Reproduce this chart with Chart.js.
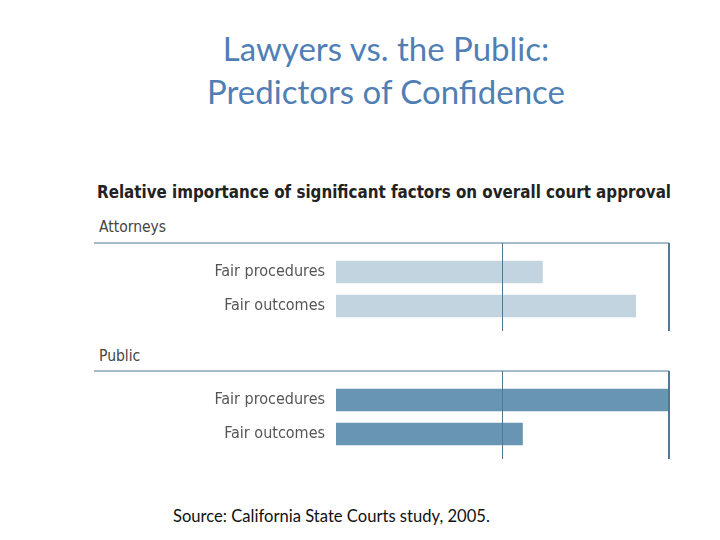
<!DOCTYPE html>
<html>
<head>
<meta charset="utf-8">
<script src="https://cdn.jsdelivr.net/npm/chart.js@4"></script>
<style>
    body { margin: 0; width: 720px; height: 540px; background: #fff; position: relative; overflow: hidden; }
    .title { position: absolute; left: 0; width: 772px; text-align: center; font-family: Lato, 'Open Sans', sans-serif; font-size: 33px; color: #4f7fb5; }
    .heading { position: absolute; left: 97px; top: 182px; font-family: 'DejaVu Sans Condensed', 'DejaVu Sans', sans-serif; font-weight: bold; font-size: 17px; color: #222; white-space: nowrap; }
    .group { position: absolute; left: 99px; font-family: 'DejaVu Sans Condensed', 'DejaVu Sans', sans-serif; font-size: 15.5px; color: #444; }
    .source { position: absolute; left: 173px; top: 506px; font-family: Lato, 'Open Sans', sans-serif; font-size: 16.6px; color: #111; }
    canvas { position: absolute; left: 94px; }
</style>
</head>
<body>
<div class="title" style="top: 28px;">Lawyers vs. the Public:</div>
<div class="title" style="top: 71px;">Predictors of Confidence</div>
<div class="heading" id="heading">Relative importance of significant factors on overall court approval</div>
<div class="group" style="top: 218px;">Attorneys</div>
<div class="group" style="top: 347px;">Public</div>
<canvas id="attorneysChart" width="590" height="110" style="top: 231px;"></canvas>
<canvas id="publicChart" width="590" height="110" style="top: 359px;"></canvas>
<div class="source">Source: California State Courts study, 2005.</div>

<script>
// Chart data
const factors = ['Fair procedures', 'Fair outcomes'];
const attorneyValues = [0.62, 0.90];
const publicValues = [1.0, 0.56];
const gridValues = [0.5, 1.0];

// squeeze the heading to the reference width
const heading = document.getElementById('heading');
const hw = heading.getBoundingClientRect().width;
heading.style.transformOrigin = 'left top';
heading.style.transform = 'scaleX(' + (574 / hw) + ')';

// frame lines: top rule + vertical reference lines
const framePlugin = {
    id: 'frame',
    afterDraw(chart) {
        const { ctx, chartArea, scales } = chart;
        const top = chartArea.top - 12;
        const bottom = chartArea.bottom + 8;
        ctx.save();
        ctx.strokeStyle = '#4f7893';
        ctx.lineWidth = 1.2;
        ctx.beginPath();
        ctx.moveTo(0, top);
        ctx.lineTo(chartArea.right, top);
        ctx.stroke();
        gridValues.forEach((v, i) => {
            const x = scales.x.getPixelForValue(v);
            ctx.lineWidth = i === gridValues.length - 1 ? 2 : 1;
            ctx.beginPath();
            ctx.moveTo(x, top);
            ctx.lineTo(x, bottom);
            ctx.stroke();
        });
        ctx.restore();
    }
};

function makeChart(id, values, color) {
    return new Chart(document.getElementById(id).getContext('2d'), {
        type: 'bar',
        data: {
            labels: factors,
            datasets: [{ data: values, backgroundColor: color, barThickness: 22, borderWidth: 0 }]
        },
        options: {
            indexAxis: 'y',
            responsive: false,
            animation: false,
            layout: { padding: { top: 24, bottom: 18, right: 15, left: 0 } },
            plugins: { legend: { display: false }, tooltip: { enabled: false } },
            scales: {
                x: { display: false, min: 0, max: 1 },
                y: {
                    grid: { display: false },
                    border: { display: false },
                    afterFit: (axis) => { axis.width = 242; },
                    ticks: {
                        padding: 3,
                        color: '#555',
                        font: { family: "'DejaVu Sans Condensed', 'DejaVu Sans', sans-serif", size: 16 }
                    }
                }
            }
        },
        plugins: [framePlugin]
    });
}

makeChart('attorneysChart', attorneyValues, '#c2d4e0');
makeChart('publicChart', publicValues, '#6895b2');
</script>
</body>
</html>
